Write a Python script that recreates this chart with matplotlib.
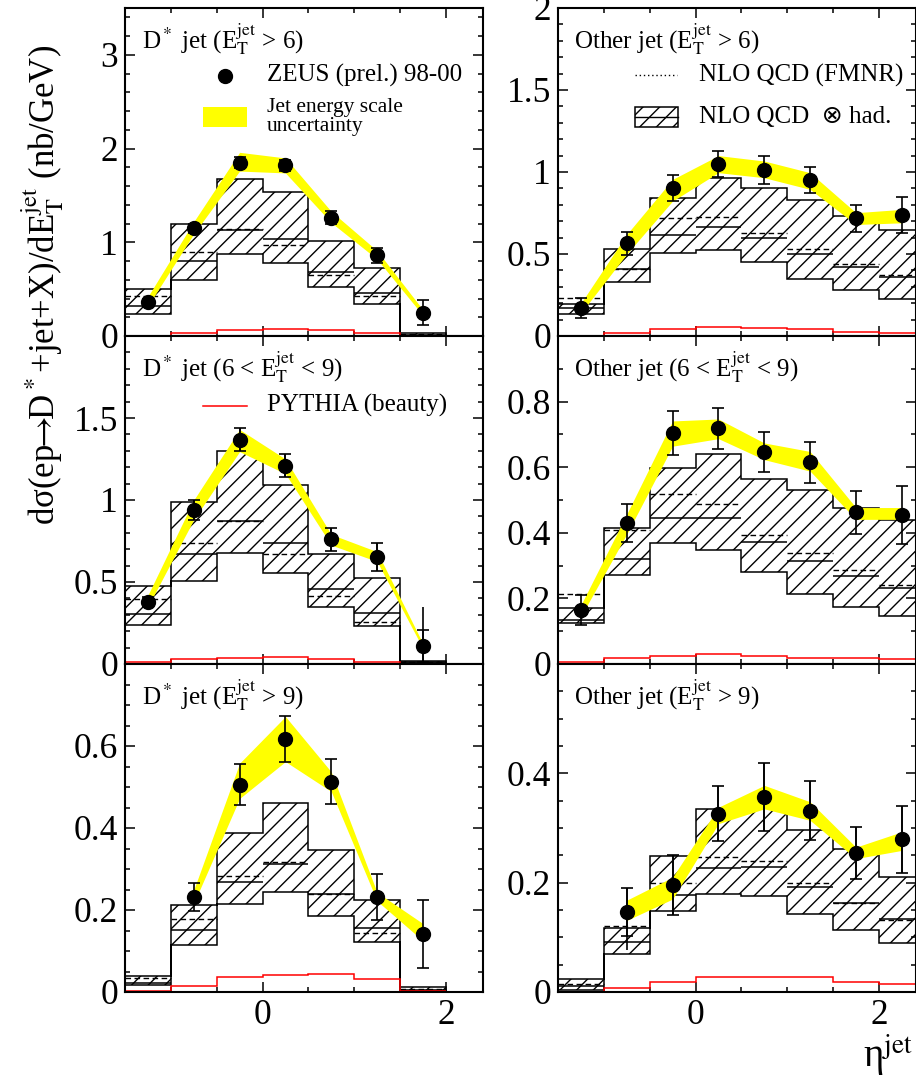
import numpy as np
import matplotlib
matplotlib.use('Agg')
import matplotlib.pyplot as plt
from matplotlib.ticker import MultipleLocator, FuncFormatter
from matplotlib.patches import Rectangle

plt.rcParams['font.family'] = ['Liberation Serif', 'DejaVu Serif']
plt.rcParams['mathtext.fontset'] = 'stix'
plt.rcParams['hatch.linewidth'] = 1.0

nan = np.nan
edges_left = np.arange(-1.5, 2.01, 0.5)
edges_right = np.arange(-1.5, 2.51, 0.5)

# D* jet, ET > 6
a_pts = [0.36, 1.15, 1.85, 1.82, 1.26, 0.86, 0.25]
a_err = [0.04, 0.05, 0.06, 0.06, 0.07, 0.08, 0.13]
a_jes_lo = [0.32, 1.09, 1.76, 1.74, 1.21, 0.82, 0.22]
a_jes_hi = [0.42, 1.22, 1.96, 1.90, 1.33, 0.91, 0.28]
a_nlo_lo = [0.24, 0.60, 0.876, 0.78, 0.52, 0.34, 0.005]
a_nlo_hi = [0.50, 1.19, 1.67, 1.54, 1.01, 0.73, 0.03]
a_nlo = [0.32, 0.80, 1.13, 1.04, 0.68, 0.46, 0.015]
a_fmnr = [0.43, 0.90, 1.14, 0.975, 0.65, 0.43, 0.02]
a_pythia = [0.003, 0.035, 0.064, 0.07, 0.064, 0.035, 0.005]

# D* jet, 6 < ET < 9
b_pts = [0.38, 0.94, 1.366, 1.21, 0.76, 0.655, 0.11]
b_err = [0.03, 0.06, 0.07, 0.07, 0.07, 0.085, 0.10]
b_tot_dn = [0.03, 0.06, 0.07, 0.07, 0.07, 0.085, 0.11]
b_tot_up = [0.03, 0.06, 0.07, 0.07, 0.07, 0.085, 0.235]
b_jes_lo = [0.35, 0.88, 1.295, 1.16, 0.725, 0.625, 0.095]
b_jes_hi = [0.42, 1.00, 1.43, 1.25, 0.79, 0.685, 0.125]
b_nlo_lo = [0.238, 0.506, 0.675, 0.553, 0.345, 0.232, 0.005]
b_nlo_hi = [0.476, 0.99, 1.30, 1.09, 0.669, 0.522, 0.02]
b_nlo = [0.303, 0.669, 0.872, 0.74, 0.457, 0.313, 0.012]
b_fmnr = [0.398, 0.736, 0.87, 0.67, 0.417, 0.256, 0.012]
b_pythia = [0.01, 0.03, 0.039, 0.04, 0.033, 0.014, 0.003]

# D* jet, ET > 9
c_pts = [nan, 0.231, 0.506, 0.617, 0.513, 0.231, 0.1415]
c_err = [nan, 0.034, 0.05, 0.055, 0.055, 0.056, 0.083]
c_jes_lo = [nan, 0.216, 0.472, 0.562, 0.489, 0.222, 0.125]
c_jes_hi = [nan, 0.249, 0.558, 0.672, 0.537, 0.243, 0.167]
c_nlo_lo = [0.017, 0.115, 0.214, 0.243, 0.185, 0.121, 0.0025]
c_nlo_hi = [0.039, 0.212, 0.387, 0.462, 0.346, 0.224, 0.011]
c_nlo = [0.023, 0.151, 0.269, 0.312, 0.238, 0.155, 0.005]
c_fmnr = [0.033, 0.177, 0.283, 0.317, 0.24, 0.145, 0.008]
c_pythia = [0.002, 0.015, 0.036, 0.041, 0.045, 0.031, 0.002]

# Other jet, ET > 6
d_pts = [0.169, 0.565, 0.904, 1.05, 1.01, 0.949, 0.717, 0.736]
d_err = [0.06, 0.07, 0.08, 0.08, 0.085, 0.08, 0.08, 0.11]
d_jes_lo = [0.14, 0.50, 0.823, 0.996, 0.965, 0.894, 0.68, 0.69]
d_jes_hi = [0.20, 0.62, 0.955, 1.10, 1.067, 0.996, 0.752, 0.772]
d_nlo_lo = [0.132, 0.331, 0.508, 0.522, 0.451, 0.35, 0.278, 0.228]
d_nlo_hi = [0.193, 0.528, 0.843, 0.965, 0.904, 0.827, 0.732, 0.644]
d_nlo = [0.173, 0.41, 0.616, 0.667, 0.596, 0.498, 0.423, 0.362]
d_fmnr = [0.23, 0.41, 0.717, 0.728, 0.63, 0.532, 0.441, 0.372]
d_pythia = [0.002, 0.02, 0.04, 0.055, 0.047, 0.04, 0.026, 0.02]

# Other jet, 6 < ET < 9
e_pts = [0.164, 0.431, 0.704, 0.719, 0.646, 0.615, 0.462, 0.455]
e_err = [0.045, 0.058, 0.068, 0.063, 0.062, 0.062, 0.065, 0.088]
e_jes_lo = [0.145, 0.396, 0.664, 0.687, 0.623, 0.588, 0.441, 0.441]
e_jes_hi = [0.18, 0.457, 0.741, 0.747, 0.674, 0.648, 0.477, 0.477]
e_nlo_lo = [0.125, 0.27, 0.369, 0.348, 0.28, 0.214, 0.174, 0.146]
e_nlo_hi = [0.172, 0.416, 0.598, 0.64, 0.563, 0.532, 0.477, 0.439]
e_nlo = [0.133, 0.32, 0.444, 0.444, 0.371, 0.313, 0.268, 0.232]
e_fmnr = [0.212, 0.41, 0.519, 0.487, 0.394, 0.337, 0.287, 0.242]
e_pythia = [0.005, 0.017, 0.025, 0.03, 0.025, 0.019, 0.017, 0.014]

# Other jet, ET > 9
f_pts = [nan, 0.147, 0.195, 0.326, 0.357, 0.332, 0.254, 0.279]
f_err = [nan, 0.044, 0.055, 0.05, 0.062, 0.054, 0.047, 0.062]
f_tot_dn = [nan, 0.071, 0.055, 0.05, 0.062, 0.054, 0.047, 0.062]
f_tot_up = [nan, 0.044, 0.055, 0.05, 0.062, 0.054, 0.047, 0.062]
f_jes_lo = [nan, 0.131, 0.17, 0.308, 0.335, 0.314, 0.244, 0.259]
f_jes_hi = [nan, 0.168, 0.21, 0.338, 0.378, 0.348, 0.265, 0.293]
f_nlo_lo = [0.004, 0.069, 0.148, 0.179, 0.176, 0.142, 0.113, 0.09]
f_nlo_hi = [0.023, 0.117, 0.249, 0.335, 0.346, 0.297, 0.261, 0.211]
f_nlo = [0.011, 0.091, 0.178, 0.226, 0.229, 0.192, 0.162, 0.133]
f_fmnr = [0.015, 0.121, 0.2, 0.247, 0.239, 0.2, 0.162, 0.131]
f_pythia = [0.0, 0.008, 0.018, 0.028, 0.027, 0.028, 0.019, 0.015]

titles = [r'D$^*$ jet (E$_\mathrm{T}^\mathrm{jet}$ > 6)',
          r'D$^*$ jet (6 < E$_\mathrm{T}^\mathrm{jet}$ < 9)',
          r'D$^*$ jet (E$_\mathrm{T}^\mathrm{jet}$ > 9)',
          r'Other jet (E$_\mathrm{T}^\mathrm{jet}$ > 6)',
          r'Other jet (6 < E$_\mathrm{T}^\mathrm{jet}$ < 9)',
          r'Other jet (E$_\mathrm{T}^\mathrm{jet}$ > 9)']


def draw_panel(ax, edges, pts, err, jes_lo, jes_hi, nlo_lo, nlo_hi, nlo, fmnr,
               pythia, tot_dn=None, tot_up=None):
    cen = edges[:-1] + 0.25
    ax.stairs(nlo_hi, edges, baseline=nlo_lo, fill=True, facecolor='none',
              edgecolor='black', hatch='//', linewidth=1.1, zorder=1)
    ax.hlines(nlo, edges[:-1], edges[1:], color='black', lw=1.1, zorder=1)
    ax.hlines(fmnr, edges[:-1], edges[1:], color='black', lw=1.0,
              linestyles=(0, (4, 2.5)), zorder=1)
    ax.stairs(pythia, edges, baseline=None, color='red', lw=1.1, zorder=2)
    ax.fill_between(cen, jes_lo, jes_hi, color='#ffff00', lw=0, zorder=3)
    if tot_dn is not None:
        ax.errorbar(cen, pts, yerr=[tot_dn, tot_up], fmt='none',
                    ecolor='black', elinewidth=1.2, capsize=0, zorder=4)
    ax.errorbar(cen, pts, yerr=err, fmt='o', color='black', ms=10,
                elinewidth=1.2, capsize=4.5, capthick=1.2, zorder=5)


fig = plt.figure(figsize=(9.16, 10.78), dpi=100)
W, H = 916.0, 1078.0
col_x = [125, 558]
row_top = [8, 336, 664]
ph = 328
pw = 357.5

panels = [
    (a_pts, a_err, a_jes_lo, a_jes_hi, a_nlo_lo, a_nlo_hi, a_nlo, a_fmnr, a_pythia, None, None),
    (b_pts, b_err, b_jes_lo, b_jes_hi, b_nlo_lo, b_nlo_hi, b_nlo, b_fmnr, b_pythia, b_tot_dn, b_tot_up),
    (c_pts, c_err, c_jes_lo, c_jes_hi, c_nlo_lo, c_nlo_hi, c_nlo, c_fmnr, c_pythia, None, None),
    (d_pts, d_err, d_jes_lo, d_jes_hi, d_nlo_lo, d_nlo_hi, d_nlo, d_fmnr, d_pythia, None, None),
    (e_pts, e_err, e_jes_lo, e_jes_hi, e_nlo_lo, e_nlo_hi, e_nlo, e_fmnr, e_pythia, None, None),
    (f_pts, f_err, f_jes_lo, f_jes_hi, f_nlo_lo, f_nlo_hi, f_nlo, f_fmnr, f_pythia, f_tot_dn, f_tot_up),
]
ylims = [3.5, 2.0, 0.8, 2.0, 1.0, 0.6]
majors = [1.0, 0.5, 0.2, 0.5, 0.2, 0.2]
minors = [0.2, 0.1, 0.05, 0.1, 0.1, 0.05]
# top label of lower panels hidden where it meets the panel above
hide_top = [False, True, True, False, True, True]

fmt = FuncFormatter(lambda v, p: '%g' % round(v, 3))
axes = []
for i in range(6):
    col, row = i // 3, i % 3
    left = col_x[col] / W
    bottom = (H - row_top[row] - ph) / H
    ax = fig.add_axes([left, bottom, pw / W, ph / H])
    axes.append(ax)
    edges = edges_left if col == 0 else edges_right
    p = panels[i]
    draw_panel(ax, edges, *p[:9], tot_dn=p[9], tot_up=p[10])
    ax.set_xlim(-1.5, 2.4)
    ax.set_ylim(0, ylims[i])
    ax.xaxis.set_major_locator(MultipleLocator(2))
    ax.xaxis.set_minor_locator(MultipleLocator(0.5))
    ax.yaxis.set_major_locator(MultipleLocator(majors[i]))
    ax.yaxis.set_minor_locator(MultipleLocator(minors[i]))
    ax.yaxis.set_major_formatter(fmt)
    ax.xaxis.set_major_formatter(fmt)
    ax.tick_params(which='both', direction='in', top=True, right=True,
                   labelsize=25.5, width=1.1, pad=5)
    ax.tick_params(which='major', length=7.5)
    ax.tick_params(which='minor', length=3.8)
    for s in ax.spines.values():
        s.set_linewidth(1.5)
    if row < 2:
        ax.tick_params(labelbottom=False)
    if hide_top[i]:
        ticks = ax.get_yticks()
        ax.set_yticks([t for t in ticks if t < ylims[i] - 1e-6 and t >= 0])
    x0 = 0.047 if col == 0 else 0.045
    ax.text(x0, 0.905, titles[i], transform=ax.transAxes, fontsize=18,
            va='center', ha='left')

# legend keys, top-left
ax = axes[0]
ax.plot([0.279], [0.793], 'o', color='black', ms=10, transform=ax.transAxes)
ax.text(0.397, 0.793, 'ZEUS (prel.) 98-00', transform=ax.transAxes,
        fontsize=18, va='center')
ax.add_patch(Rectangle((0.218, 0.637), 0.123, 0.061, transform=ax.transAxes,
                       facecolor='#ffff00', edgecolor='none'))
ax.text(0.397, 0.668, 'Jet energy scale\nuncertainty', transform=ax.transAxes,
        fontsize=15.5, va='center', linespacing=0.95)

# legend keys, top-right
ax = axes[3]
ax.plot([0.215, 0.332], [0.796, 0.796], color='black', lw=1.0, ls=(0, (1, 2)),
        transform=ax.transAxes)
ax.text(0.394, 0.793, 'NLO QCD (FMNR)', transform=ax.transAxes,
        fontsize=18, va='center')
ax.add_patch(Rectangle((0.215, 0.637), 0.12, 0.061, transform=ax.transAxes,
                       facecolor='none', edgecolor='black', hatch='//', lw=1.1))
ax.plot([0.215, 0.335], [0.668, 0.668], color='black', lw=1.0,
        transform=ax.transAxes)
ax.text(0.394, 0.668, 'NLO QCD  ⊗ had.', transform=ax.transAxes,
        fontsize=18, va='center', family=['Liberation Serif', 'DejaVu Sans'])

# legend key, mid-left
ax = axes[1]
ax.plot([0.218, 0.341], [0.787, 0.787], color='red', lw=1.1,
        transform=ax.transAxes)
ax.text(0.397, 0.787, 'PYTHIA (beauty)', transform=ax.transAxes,
        fontsize=18, va='center')

fig.text(0.046, 1 - 285 / H,
         r'dσ(ep$\!\!\rightarrow\!\!$D$^*$+jet+X)/dE$_\mathrm{T}^\mathrm{jet}$ (nb/GeV)',
         rotation=90, fontsize=25, va='center', ha='center')
fig.text(0.997, 1 - 1067 / H, r'η$^\mathrm{jet}$', fontsize=28,
         ha='right', va='baseline')

fig.savefig('out.png', dpi=100)
